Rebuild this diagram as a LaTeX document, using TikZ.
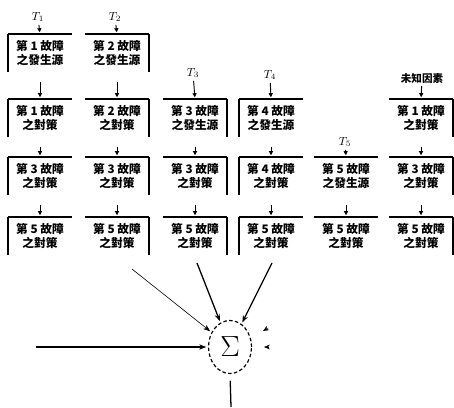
\documentclass[tikz,border=0pt]{standalone}
\usepackage{fontspec}
\newfontfamily\cjk{Noto Sans CJK TC}
\usetikzlibrary{arrows.meta,shapes.geometric}

\tikzset{
  cell/.style={font={\cjk\bfseries\fontsize{10}{12}\selectfont}, align=center,
    minimum width=1.89cm, minimum height=1.11cm, inner sep=0pt},
  bar/.style={line width=1.5pt},
  leftbox/.style={cell, append after command={
    (\tikzlastnode.north east) edge[bar] (\tikzlastnode.north west)
    (\tikzlastnode.north west) edge[bar] (\tikzlastnode.south west)}},
  rightbox/.style={cell, append after command={
    (\tikzlastnode.north west) edge[bar] (\tikzlastnode.north east)
    (\tikzlastnode.north east) edge[bar] (\tikzlastnode.south east)}},
  topbox/.style={cell, append after command={
    (\tikzlastnode.north west) edge[bar] (\tikzlastnode.north east)}},
  tag/.style={inner sep=1pt, font=\normalsize},
  flow/.style={-{Triangle[length=3.5pt,width=3.5pt]}, line width=0.8pt,
    shorten <=0.3cm, shorten >=0.06cm},
  feed/.style={-{Triangle[length=3.5pt,width=3.5pt]}, line width=0.8pt,
    shorten <=0.05cm, shorten >=0.06cm},
  into/.style={-{Stealth[length=6pt,width=4.5pt]}, line width=0.9pt, shorten >=0.05cm},
}

\begin{document}
\begin{tikzpicture}[x=0.03cm, y=-0.03cm]
  \useasboundingbox (0,0) rectangle (454,407);

  % labels
  \node[tag] (t1) at (38,17) {$T_1$};
  \node[tag] (t2) at (115,17) {$T_2$};
  \node[tag] (t3) at (193,73) {$T_3$};
  \node[tag] (t4) at (270,75) {$T_4$};
  \node[tag] (t5) at (345,142) {$T_5$};
  \node[tag, font={\cjk\bfseries\fontsize{9}{10}\selectfont}] (t6) at (422,78) {未知因素};

  % row 1
  \node[leftbox]  (b1a) at (40,53) {第 1 故障\\之發生源};
  \node[rightbox] (b2a) at (117,53) {第 2 故障\\之發生源};

  % row 2
  \node[leftbox]  (b1b) at (40,118) {第 1 故障\\之對策};
  \node[rightbox] (b2b) at (117,118) {第 2 故障\\之對策};
  \node[rightbox] (b3b) at (195,118) {第 3 故障\\之發生源};
  \node[leftbox]  (b4b) at (271,118) {第 4 故障\\之發生源};
  \node[rightbox] (b6b) at (421,118) {第 1 故障\\之對策};

  % row 3
  \node[leftbox]  (b1c) at (40,176) {第 3 故障\\之對策};
  \node[rightbox] (b2c) at (117,176) {第 3 故障\\之對策};
  \node[rightbox] (b3c) at (195,176) {第 3 故障\\之對策};
  \node[leftbox]  (b4c) at (271,176) {第 4 故障\\之對策};
  \node[topbox]   (b5c) at (346,176) {第 5 故障\\之發生源};
  \node[rightbox] (b6c) at (421,176) {第 3 故障\\之對策};

  % row 4
  \node[leftbox]  (b1d) at (40,236) {第 5 故障\\之對策};
  \node[rightbox] (b2d) at (117,236) {第 5 故障\\之對策};
  \node[rightbox] (b3d) at (195,236) {第 5 故障\\之對策};
  \node[leftbox]  (b4d) at (271,236) {第 5 故障\\之對策};
  \node[topbox]   (b5d) at (346,236) {第 5 故障\\之對策};
  \node[rightbox] (b6d) at (421,236) {第 5 故障\\之對策};

  % labels into first boxes
  \draw[feed] (t1) -- (b1a.north);
  \draw[feed] (t2) -- (b2a.north);
  \draw[feed] (t3) -- (b3b.north);
  \draw[feed] (t4) -- (b4b.north);
  \draw[feed] (t5) -- (b5c.north);
  \draw[feed] (t6) -- (b6b.north);

  % down the columns
  \draw[flow] (b1a.south) -- (b1b.north);
  \draw[flow] (b2a.south) -- (b2b.north);
  \foreach \c in {1,2,3,4,6} {
    \draw[flow] (b\c b.south) -- (b\c c.north);
  }
  \foreach \c in {1,...,6} {
    \draw[flow] (b\c c.south) -- (b\c d.north);
  }

  % summing point
  \node[ellipse, draw, dashed, line width=1pt, dash pattern=on 3pt off 2pt,
    minimum width=1.29cm, minimum height=1.59cm, inner sep=0pt] (sum) at (230,347)
    {\Huge$\Sigma$};

  \coordinate (in-left) at (36,347);
  \coordinate (in-diag) at (132,269);
  \coordinate (in-mid) at (197,263);
  \coordinate (in-right) at (272,263);
  \coordinate (tip-a) at (268,328);
  \coordinate (tip-a') at (263,331);
  \coordinate (tip-b) at (269,347);
  \coordinate (tip-b') at (264,347);
  \coordinate (out) at (231,407);

  \draw[into] (in-left) -- (sum);
  \draw[into, line width=0.5pt] (in-diag) -- (sum);
  \draw[into, line width=1.1pt] (in-mid) -- (sum);
  \draw[into, line width=1.1pt] (in-right) -- (sum);
  \draw[-{Stealth[length=5pt,width=4pt]}, line width=0.4pt] (tip-a) -- (tip-a');
  \draw[-{Stealth[length=5pt,width=4pt]}, line width=0.4pt] (tip-b) -- (tip-b');
  \draw[line width=1.1pt, shorten <=0.2cm] (sum.south) -- (out);
\end{tikzpicture}
\end{document}
